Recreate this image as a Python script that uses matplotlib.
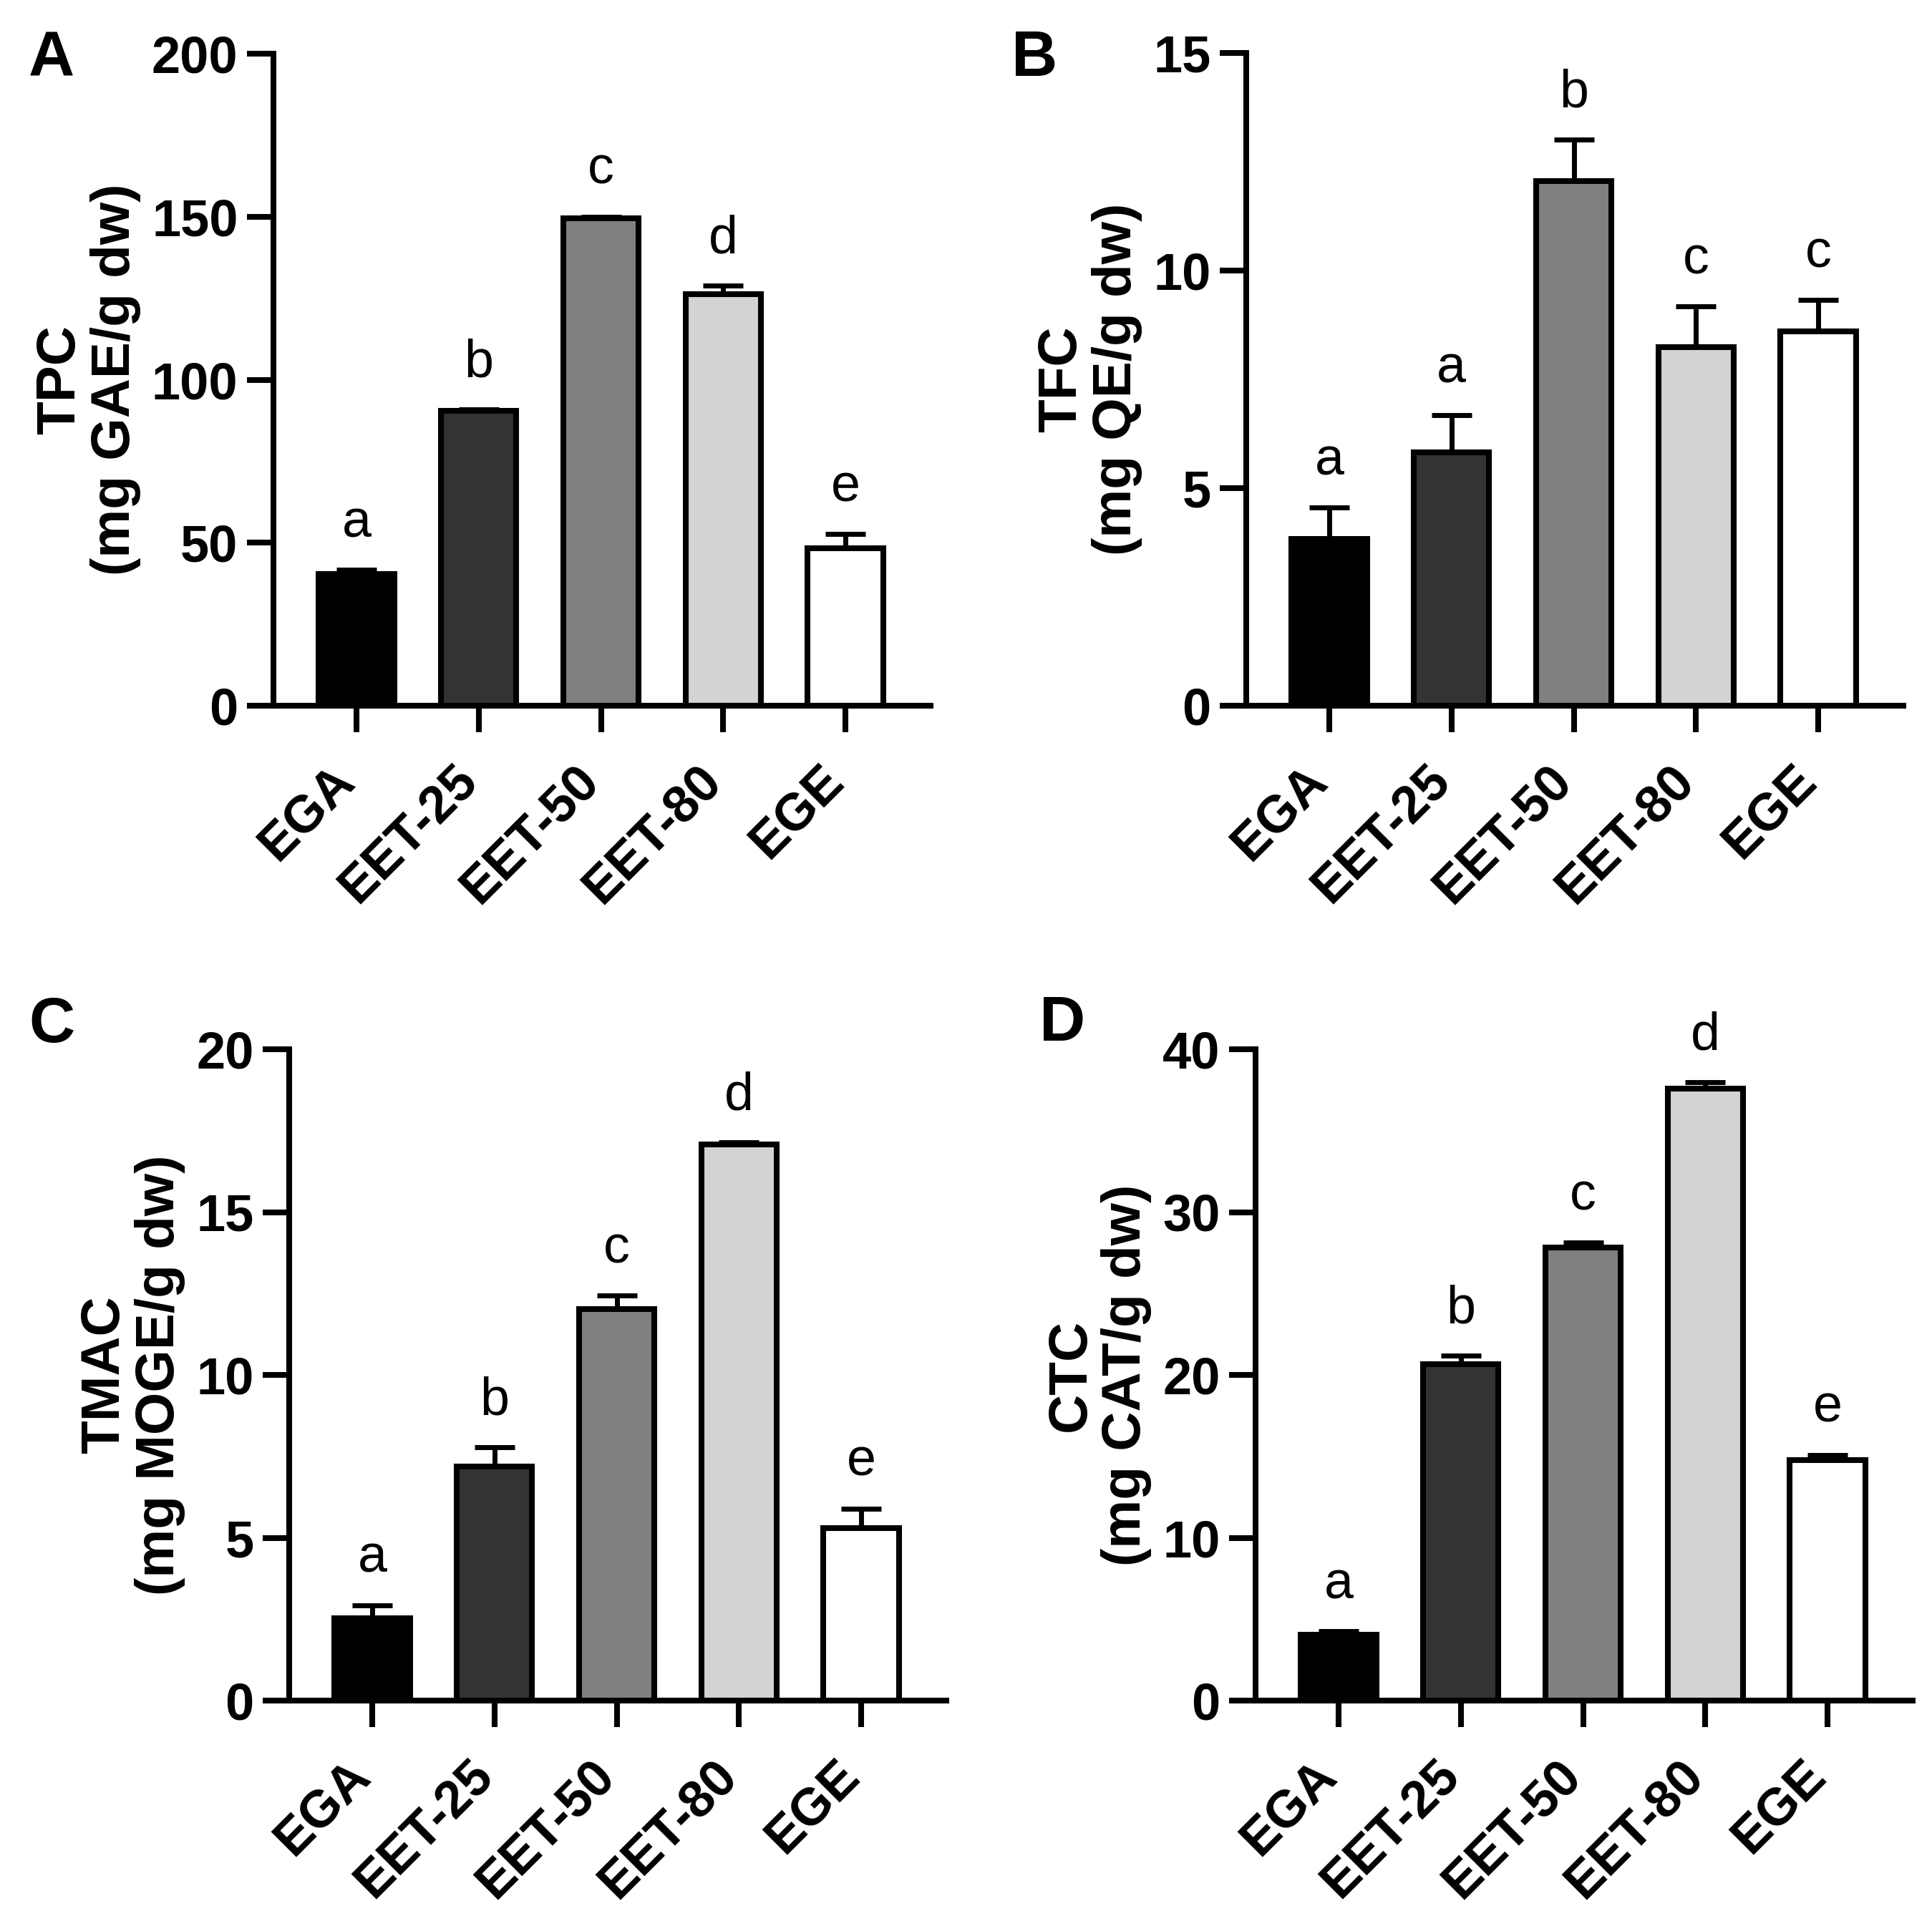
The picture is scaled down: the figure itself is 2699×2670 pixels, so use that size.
import matplotlib
matplotlib.use('Agg')
import matplotlib.pyplot as plt
from matplotlib.transforms import ScaledTranslation

plt.rcParams['font.family'] = ['Liberation Sans', 'DejaVu Sans']

categories = ['EGA', 'EET-25', 'EET-50', 'EET-80', 'EGE']
bar_colors = ['#000000', '#333333', '#808080', '#d3d3d3', '#ffffff']

tpc = [40.3, 90.4, 149.5, 126.3, 48.3]
tpc_err = [1.4, 0.5, 0.5, 2.6, 4.3]
tpc_letters = ['a', 'b', 'c', 'd', 'e']

tfc = [3.84, 5.82, 12.05, 8.24, 8.60]
tfc_err = [0.71, 0.86, 0.96, 0.94, 0.72]
tfc_letters = ['a', 'a', 'b', 'c', 'c']

tmac = [2.52, 7.18, 12.03, 17.07, 5.30]
tmac_err = [0.41, 0.60, 0.41, 0.07, 0.60]
tmac_letters = ['a', 'b', 'c', 'd', 'e']

ctc = [4.03, 20.65, 27.82, 37.60, 14.79]
ctc_err = [0.23, 0.52, 0.30, 0.38, 0.30]
ctc_letters = ['a', 'b', 'c', 'd', 'e']

panels = [
    dict(tag='A', vals=tpc, err=tpc_err, letters=tpc_letters, ymax=200, yticks=[0, 50, 100, 150, 200],
         ylabel='TPC\n(mg GAE/g dw)', rect=(382, 75, 986), tagpos=(40, 106)),
    dict(tag='B', vals=tfc, err=tfc_err, letters=tfc_letters, ymax=15, yticks=[0, 5, 10, 15],
         ylabel='TFC\n(mg QE/g dw)', rect=(1741, 74, 986), tagpos=(1413, 106)),
    dict(tag='C', vals=tmac, err=tmac_err, letters=tmac_letters, ymax=20, yticks=[0, 5, 10, 15, 20],
         ylabel='TMAC\n(mg MOGE/g dw)', rect=(404, 1466, 2376), tagpos=(40, 1456)),
    dict(tag='D', vals=ctc, err=ctc_err, letters=ctc_letters, ymax=40, yticks=[0, 10, 20, 30, 40],
         ylabel='CTC\n(mg CAT/g dw)', rect=(1754, 1466, 2376), tagpos=(1452, 1454)),
]

W, H = 2699, 2670
fig = plt.figure(figsize=(W / 100, H / 100), dpi=100)

LW = 5.8
axw_px = 918
spacing_px = 170.75
x0_off = 116 / spacing_px

for p in panels:
    left, top, bottom = p['rect']
    ax = fig.add_axes([left / W, 1 - bottom / H, axw_px / W, (bottom - top) / H])
    x = list(range(len(categories)))
    ax.errorbar(x, p['vals'], yerr=[[0] * len(x), p['err']], fmt='none', ecolor='black',
                elinewidth=5, capsize=20.5, capthick=5, zorder=1)
    ax.bar(x, p['vals'], width=0.615, color=bar_colors, edgecolor='black', linewidth=LW, zorder=2)
    for xi, v, e, l in zip(x, p['vals'], p['err'], p['letters']):
        ax.annotate(l, (xi, v + e), xytext=(0, 33), textcoords='offset points',
                    ha='center', va='baseline', fontsize=53)
    ax.set_xlim(-x0_off, -x0_off + axw_px / spacing_px)
    ax.set_ylim(0, p['ymax'])
    ax.set_yticks(p['yticks'])
    ax.set_xticks(x)
    ax.set_xticklabels(categories, rotation=45, ha='right', va='baseline',
                       rotation_mode='anchor', fontsize=52, fontweight='bold')
    for lab in ax.get_xticklabels():
        lab.set_transform(lab.get_transform() + ScaledTranslation(9 / 100, 0, fig.dpi_scale_trans))
    for lab in ax.get_yticklabels():
        lab.set_fontsize(52)
        lab.set_fontweight('bold')
    for s in ['top', 'right']:
        ax.spines[s].set_visible(False)
    for s in ['left', 'bottom']:
        ax.spines[s].set_linewidth(LW)
    ax.tick_params(axis='both', length=26.6, width=LW, direction='out')
    ax.tick_params(axis='y', pad=9)
    ax.tick_params(axis='x', pad=51)
    ax.set_ylabel(p['ylabel'], fontsize=55, fontweight='bold', labelpad=11, linespacing=1.1)
    fig.text(p['tagpos'][0] / W, 1 - p['tagpos'][1] / H, p['tag'], fontsize=64,
             fontweight='bold', ha='left', va='baseline')

fig.savefig('out.png', dpi=100)
